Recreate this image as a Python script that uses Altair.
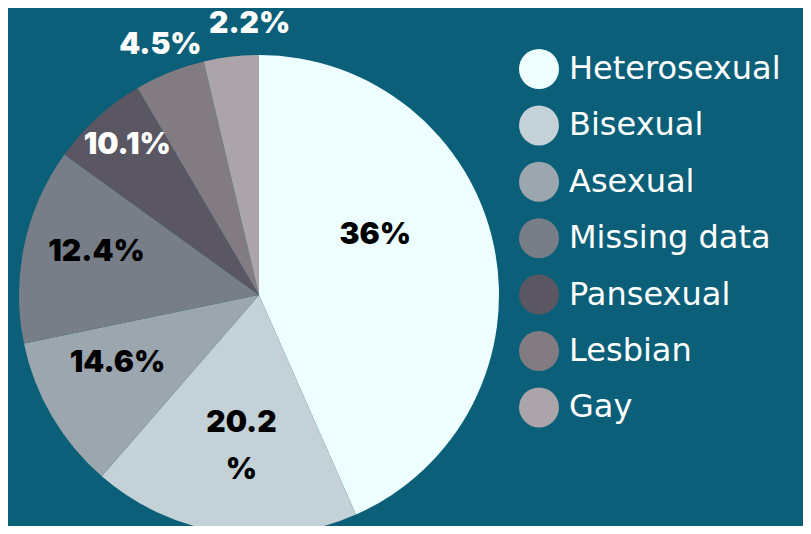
import altair as alt
import pandas as pd

categories = ["Heterosexual", "Bisexual", "Asexual", "Missing data", "Pansexual", "Lesbian", "Gay"]
slice_values = [43.4, 18.0, 10.4, 13.2, 6.6, 4.75, 3.7]
labels = ["36%", "20.2\n%", "14.6%", "12.4%", "10.1%", "4.5%", "2.2%"]
colors = ["#EEFEFF", "#C4D2D7", "#9BA6AE", "#777E87", "#5A5763", "#827C82", "#ABA4A8"]
label_colors = ["#000000", "#000000", "#000000", "#000000", "#FFFFFF", "#FFFFFF", "#FFFFFF"]
# label placement: distance from the centre and angular shift (in value units)
label_radius = [131, 129, 157, 168, 200, 269, 271]
label_shift = [-4.3, -0.2, 1.3, 0.75, 0.3, 0.1, 1.3]

df = pd.DataFrame({
    "cat": categories,
    "val": slice_values,
    "lab": labels,
    "lc": label_colors,
    "lr": label_radius,
    "ls": label_shift,
    "ord": list(range(len(categories))),
})

TOTAL = float(sum(slice_values))
BG = "#0B5F78"
CX, CY = 251, 287
theta_scale = alt.Scale(domain=[0, TOTAL])

arcs = alt.Chart(df).mark_arc(radius=240, strokeWidth=0).encode(
    theta=alt.Theta("val:Q", stack=True, scale=theta_scale),
    order=alt.Order("ord:Q"),
    x=alt.value(CX),
    y=alt.value(CY),
    color=alt.Color(
        "cat:N",
        scale=alt.Scale(domain=categories, range=colors),
        sort=categories,
        legend=alt.Legend(
            title=None,
            orient="none",
            legendX=511,
            legendY=41,
            symbolType="circle",
            symbolSize=1600,
            symbolStrokeWidth=0,
            symbolOpacity=1,
            labelFontSize=32,
            labelFont="DejaVu Sans",
            labelColor="#FFFFFF",
            labelOffset=10,
            rowPadding=16.4,
            padding=0,
            labelLimit=400,
        ),
    ),
)

texts = alt.Chart(df).transform_window(
    cum="sum(val)", sort=[alt.SortField("ord")], frame=[None, 0]
).transform_calculate(
    mid="datum.cum - datum.val / 2 + datum.ls",
    txt="split(datum.lab, '\\n')",
).mark_text(
    font="Inter",
    fontWeight=900,
    fontSize=30,
    lineHeight=47,
    align="center",
    baseline="middle",
).encode(
    theta=alt.Theta("mid:Q", stack=None, scale=theta_scale),
    x=alt.value(CX),
    y=alt.value(CY),
    radius=alt.Radius("lr:Q", scale=None),
    text=alt.Text("txt:N"),
    color=alt.Color("lc:N", scale=None),
)

chart = alt.layer(arcs, texts).properties(
    width=795,
    height=518,
    autosize=alt.AutoSizeParams(type="none"),
    padding=0,
).configure(background=BG).configure_view(stroke=None)

chart.save("out.html", embed_options={"renderer": "svg", "actions": False})
